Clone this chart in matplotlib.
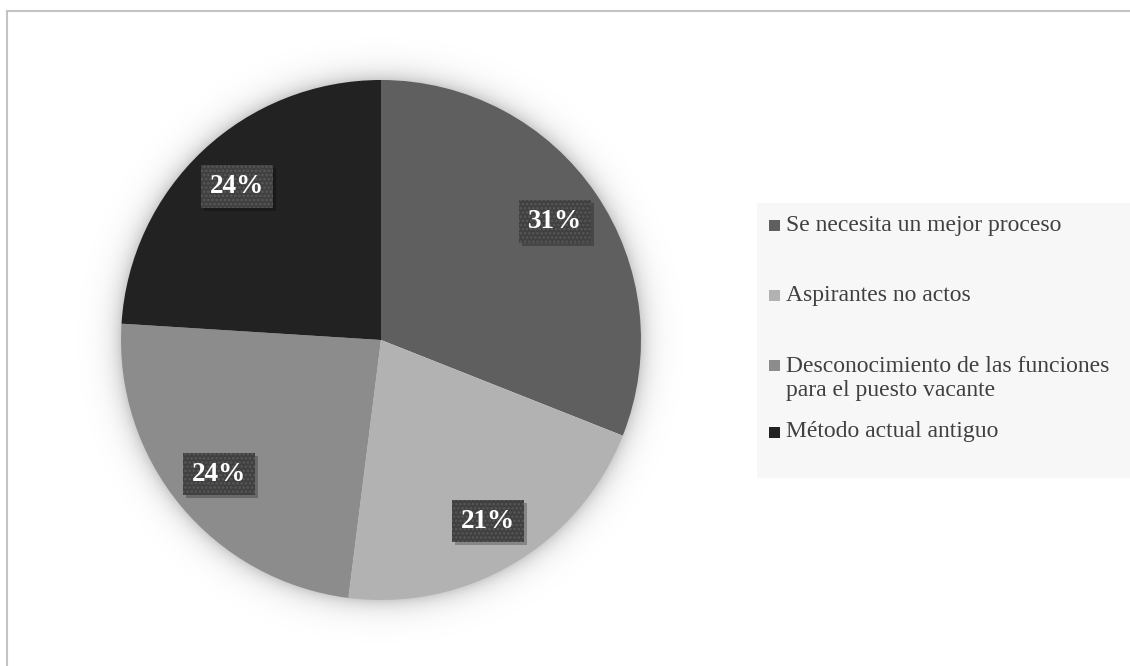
import matplotlib
matplotlib.use('Agg')
import matplotlib.pyplot as plt
from matplotlib.patches import Rectangle
import numpy as np

# Datos del gráfico
categorias = ['Se necesita un mejor proceso',
              'Aspirantes no actos',
              'Desconocimiento de las funciones\npara el puesto vacante',
              'Método actual antiguo']
porcentajes = [31, 21, 24, 24]
colores = ['#5f5f5f', '#b2b2b2', '#8c8c8c', '#222222']

plt.rcParams['font.family'] = ['Liberation Serif', 'DejaVu Serif']
plt.rcParams['hatch.linewidth'] = 1.2

W, H = 1130, 666
fig = plt.figure(figsize=(W / 100, H / 100), dpi=100)
ax = fig.add_axes([0, 0, 1, 1])

# Borde del área del gráfico
ax.add_patch(Rectangle((6.5, -10), W + 20, H - 10.5 + 10, fill=False,
                       edgecolor='#c3c3c3', linewidth=1.5, zorder=0))

cx, cy, radio = 381, H - 340, 260

# Sombra difusa alrededor del pastel
yy, xx = np.mgrid[0:H, 0:W]
d = np.hypot(xx + 0.5 - cx, yy + 0.5 - cy) - radio
alfa = np.where(d > -2, 0.2 * np.exp(-np.clip(d, 0, None) / 11.0), 0)
sombra = np.zeros((H, W, 4))
sombra[..., 3] = alfa
ax.imshow(sombra, extent=[0, W, 0, H], origin='lower', zorder=1,
          interpolation='bilinear')

wedges, textos, autotextos = ax.pie(
    porcentajes, colors=colores, startangle=90, counterclock=False,
    center=(cx, cy), radius=radio, autopct='%d%%', pctdistance=0.81,
    wedgeprops=dict(linewidth=0, zorder=2), frame=True,
    textprops=dict(color='white', fontsize=19.5, fontweight='bold'))
ax.set_xlim(0, W)
ax.set_ylim(0, H)
ax.set_aspect('equal')
ax.axis('off')

# Cajas de las etiquetas con trama de puntos
for t in autotextos:
    t.set_zorder(5)
    t.set_bbox(dict(boxstyle='square,pad=0.32', facecolor='#404040',
                    edgecolor='#585858', linewidth=0, hatch='....'))

# Sombra de cada caja, desplazada hacia abajo a la derecha
fig.canvas.draw()
for t in autotextos:
    caja = t.get_bbox_patch().get_window_extent()
    ax.add_patch(Rectangle((caja.x0 + 3, caja.y0 - 3), caja.width, caja.height,
                           transform=None, facecolor='black', alpha=0.25,
                           edgecolor='none', zorder=4))

# Leyenda
ax.add_patch(Rectangle((757, H - 478), W, 275, facecolor='#f7f7f7',
                       edgecolor='none', zorder=1))
pos_y = [225, 295, 365, 432]
interlineado = 27
for color, nombre, y in zip(colores, categorias, pos_y):
    ax.add_patch(Rectangle((769, H - y - 5.5), 11, 11, facecolor=color,
                           edgecolor='none', zorder=3))
    lineas = nombre.count('\n')
    ax.text(786, H - y - lineas * interlineado / 2, nombre, fontsize=17,
            color='#404040', va='center', ha='left', linespacing=1.15,
            zorder=3)

fig.savefig('out.png', dpi=100, facecolor='white')
